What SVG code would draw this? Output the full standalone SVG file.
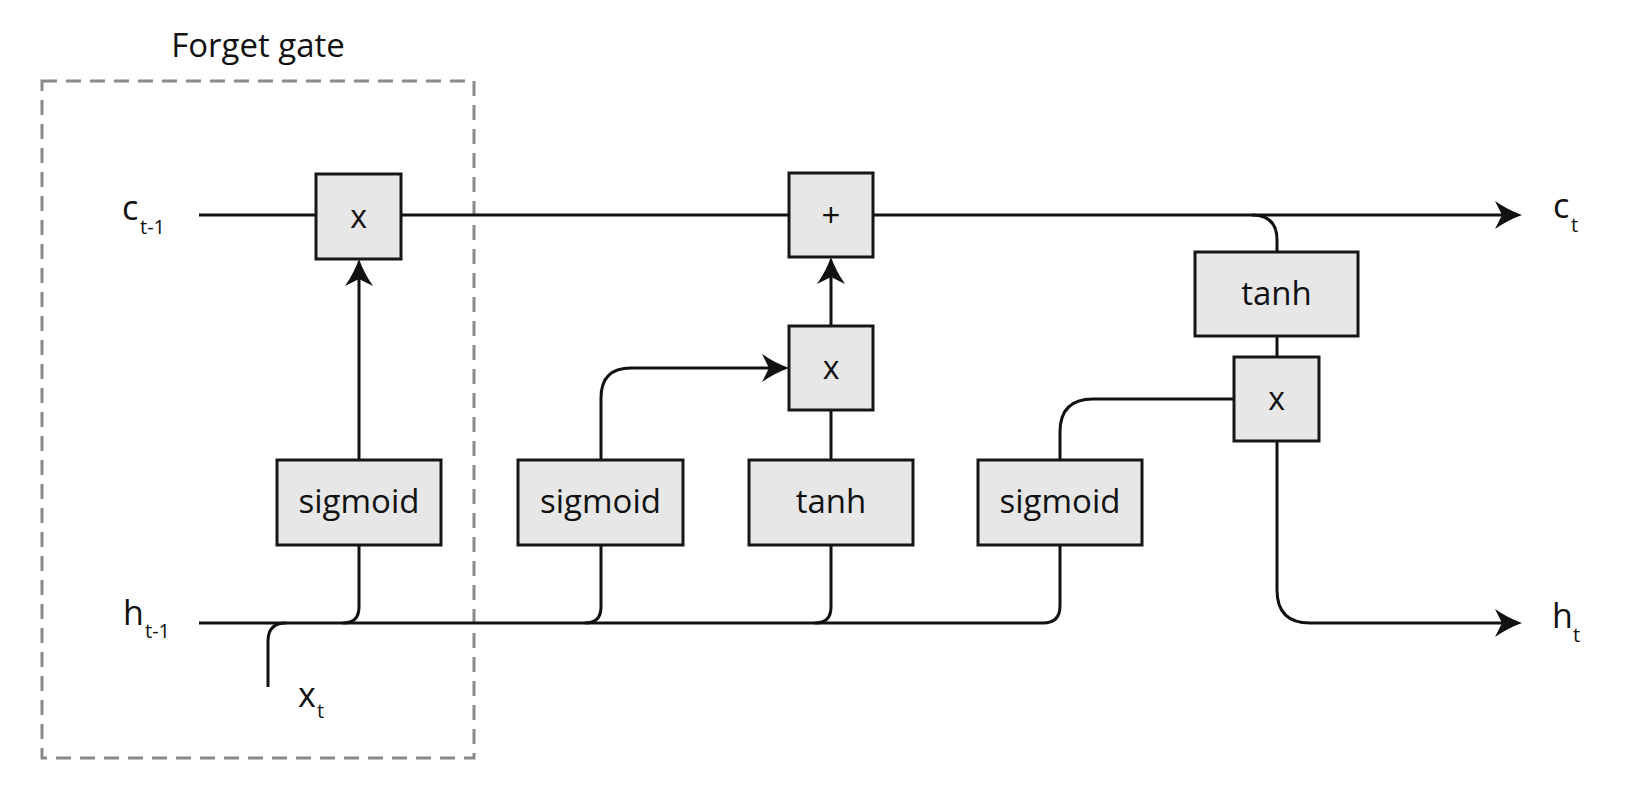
<svg xmlns="http://www.w3.org/2000/svg" width="1630" height="805" viewBox="0 0 1630 805">
<style>
  .box { fill: #e7e7e8; stroke: #161616; stroke-width: 3; }
  .wire { fill: none; stroke: #111; stroke-width: 3; }
  .lbl { font-family: "Open Sans", "Noto Sans", sans-serif; fill: #111; }
  .bt { font-size: 33px; text-anchor: middle; }
  .op { font-size: 32px; text-anchor: middle; }
  .io { font-size: 34px; }
  .sub { font-size: 20px; }
  .frame { fill: none; stroke: #8a8a8a; stroke-width: 3; stroke-dasharray: 15 9; }
</style>
<defs>
  <marker id="arr" markerUnits="userSpaceOnUse" viewBox="0 0 27 28" refX="21" refY="14" markerWidth="27" markerHeight="28" orient="auto">
    <path d="M27,14 Q13,9 0,0 L7,14 L0,28 Q13,19 27,14 Z" fill="#111"/>
  </marker>
</defs>
<rect width="1630" height="805" fill="#fff"/>

<g id="forget-gate-frame">
  <rect class="frame" x="42" y="81" width="432" height="677"/>
  <text class="lbl" x="258" y="57" font-size="33" text-anchor="middle">Forget gate</text>
</g>

<g id="connectors">
  <path class="wire" d="M199,215 H1516" marker-end="url(#arr)"/>
  <path class="wire" d="M359,460 V265" marker-end="url(#arr)"/>
  <path class="wire" d="M199,623 H1043 Q1060,623 1060,606 V545"/>
  <path class="wire" d="M359,545 V607 Q359,623 343,623"/>
  <path class="wire" d="M601,545 V607 Q601,623 585,623"/>
  <path class="wire" d="M831,545 V607 Q831,623 815,623"/>
  <path class="wire" d="M268,687 V641 Q268,623 286,623"/>
  <path class="wire" d="M601,460 V398 Q601,368 631,368 H783" marker-end="url(#arr)"/>
  <path class="wire" d="M831,460 V410"/>
  <path class="wire" d="M831,326 V263" marker-end="url(#arr)"/>
  <path class="wire" d="M1252,215 Q1277,215 1277,240 V252"/>
  <path class="wire" d="M1277,336 V357"/>
  <path class="wire" d="M1234,399 H1093 Q1060,399 1060,432 V460"/>
  <path class="wire" d="M1277,441 V590 Q1277,623 1310,623 H1516" marker-end="url(#arr)"/>
</g>

<g id="forget-mult">
  <rect class="box" x="316" y="174" width="85" height="85"/>
  <text class="lbl op" x="358.5" y="228">x</text>
</g>
<g id="forget-sigmoid">
  <rect class="box" x="277" y="460" width="164" height="85"/>
  <text class="lbl bt" x="359" y="513">sigmoid</text>
</g>
<g id="cell-add">
  <rect class="box" x="789" y="173" width="84" height="84"/>
  <text class="lbl bt" x="831" y="227">+</text>
</g>
<g id="input-sigmoid">
  <rect class="box" x="518" y="460" width="165" height="85"/>
  <text class="lbl bt" x="600.5" y="513">sigmoid</text>
</g>
<g id="input-mult">
  <rect class="box" x="789" y="326" width="84" height="84"/>
  <text class="lbl op" x="831" y="379">x</text>
</g>
<g id="input-tanh">
  <rect class="box" x="749" y="460" width="164" height="85"/>
  <text class="lbl bt" x="831" y="513">tanh</text>
</g>
<g id="output-tanh">
  <rect class="box" x="1195" y="252" width="163" height="84"/>
  <text class="lbl bt" x="1276.5" y="305">tanh</text>
</g>
<g id="output-mult">
  <rect class="box" x="1234" y="357" width="85" height="84"/>
  <text class="lbl op" x="1276.5" y="410">x</text>
</g>
<g id="output-sigmoid">
  <rect class="box" x="978" y="460" width="164" height="85"/>
  <text class="lbl bt" x="1060" y="513">sigmoid</text>
</g>

<g id="label-c-prev">
  <text class="lbl io" x="122" y="220">c<tspan class="sub" x="140" y="234">t-1</tspan></text>
</g>
<g id="label-h-prev">
  <text class="lbl io" x="123" y="625">h<tspan class="sub" x="145" y="638">t-1</tspan></text>
</g>
<g id="label-x">
  <text class="lbl io" x="298" y="707">x<tspan class="sub" x="317" y="718">t</tspan></text>
</g>
<g id="label-c-out">
  <text class="lbl io" x="1553" y="218">c<tspan class="sub" x="1571" y="232">t</tspan></text>
</g>
<g id="label-h-out">
  <text class="lbl io" x="1552" y="628">h<tspan class="sub" x="1573" y="642">t</tspan></text>
</g>
</svg>
